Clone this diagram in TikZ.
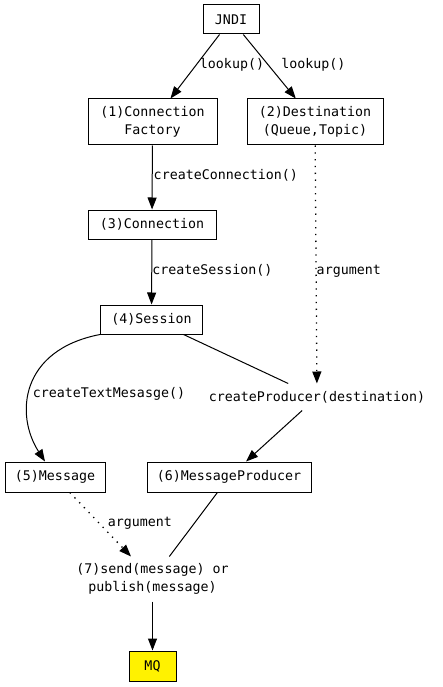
\documentclass[tikz,border=0pt]{standalone}
\usepackage{fontspec}
\setmonofont{DejaVu Sans Mono}
\usetikzlibrary{arrows.meta}
\begin{document}
\begin{tikzpicture}[x=1pt,y=-1pt,line width=1pt,
    every node/.style={font=\ttfamily\fontsize{13.3}{17.5}\selectfont, align=center},
    box/.style={draw, line width=1pt, inner sep=0pt},
    plain/.style={inner sep=0pt},
    lbl/.style={inner sep=0pt, anchor=west},
    arg/.style={line width=1.3pt, dash pattern=on 1.3pt off 5.5pt}]
  \useasboundingbox (0,0) rectangle (443,687);
  \draw
    (231,19.5) node[box, minimum width=56pt, minimum height=29pt] (jndi){JNDI}
    (152.5,122) node[box, minimum width=129pt, minimum height=46pt] (1){(1)Connection\\Factory}
    (315,122) node[box, minimum width=136pt, minimum height=46pt] (2){(2)Destination\\(Queue,Topic)}
    (152,224.5) node[box, minimum width=128pt, minimum height=29pt] (3){(3)Connection}
    (151.5,319.5) node[box, minimum width=102pt, minimum height=29pt] (4){(4)Session}
    (317,397) node[plain, minimum height=26pt] (p){createProducer(destination)}
    (55,477) node[box, minimum width=100pt, minimum height=30pt] (5){(5)Message}
    (229,477) node[box, minimum width=164pt, minimum height=30pt] (6){(6)MessageProducer}
    (152.5,579) node[plain, minimum height=44pt] (7){(7)send(message) or\\publish(message)}
    (152.5,666) node[box, fill=yellow, minimum width=47pt, minimum height=30pt] (mq){MQ};
  \begin{scope}[-{Triangle[length=12pt,width=9pt]}]
    \draw (jndi) to node[lbl, pos=0.47, xshift=3pt]{lookup()} (1);
    \draw (jndi) to node[lbl, pos=0.47, xshift=13pt]{lookup()} (2);
    \draw (1) to node[lbl, pos=0.46, xshift=1pt]{createConnection()} (3);
    \draw (3) to node[lbl, pos=0.48]{createSession()} (4);
    \draw[arg] (2) to node[lbl, pos=0.53]{argument} (p);
    \draw (4.south west) .. controls (20,350) and (15,415) .. node[lbl, pos=0.55, xshift=3pt]{createTextMesasge()} ([xshift=-10pt]5.north);
    \draw (p) to (6);
    \draw[arg] (5) to node[lbl, pos=0.48, xshift=8pt]{argument} (7);
    \draw (7) to (mq);
  \end{scope}
  \draw (4) to (p);
  \draw (6) to (7);
\end{tikzpicture}
\end{document}
